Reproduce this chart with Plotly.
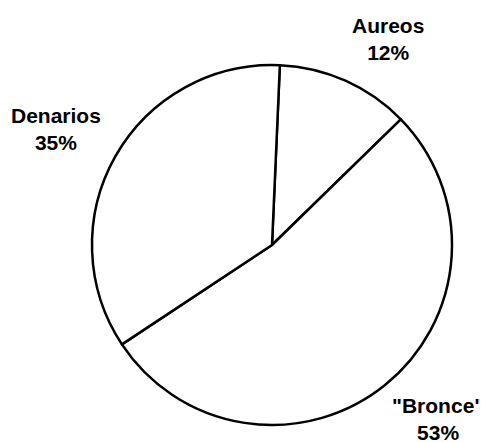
"""Pie chart: composición de monedas (Aureos / Bronce / Denarios)."""
import plotly.graph_objects as go

# --- Data ---
labels = ["Aureos", "\"Bronce\"", "Denarios"]
values = [12, 53, 35]

# --- Label placement (paper coords) ---
label_x = [0.791, 0.896, 0.099]
label_y = [0.929, 0.052, 0.721]

# page body has an 8px margin, so the figure is 8px smaller each way
W, H = 480, 434
CX, CY, R = 264, 237, 180

fig = go.Figure(go.Pie(
    labels=labels,
    values=values,
    sort=False,
    direction="clockwise",
    rotation=2.5,
    textinfo="none",
    hoverinfo="label+percent",
    marker=dict(colors=["white"] * 3, line=dict(color="black", width=[2.5, 2.5, 2.5])),
    domain=dict(x=[(CX - R) / W, (CX + R) / W],
                y=[(H - CY - R) / H, (H - CY + R) / H]),
    showlegend=False,
))

total = sum(values)
for lab, val, x, y in zip(labels, values, label_x, label_y):
    fig.add_annotation(
        x=x, y=y, xref="paper", yref="paper",
        text=f"<b>{lab}</b><br><b>{round(100 * val / total)}%</b>",
        showarrow=False, xanchor="center", yanchor="middle",
        font=dict(family="Liberation Sans, Arial, sans-serif", size=21, color="black"),
    )

fig.update_layout(
    width=W, height=H,
    margin=dict(l=0, r=0, t=0, b=0),
    paper_bgcolor="white", plot_bgcolor="white",
)
fig.write_html("out.html")
